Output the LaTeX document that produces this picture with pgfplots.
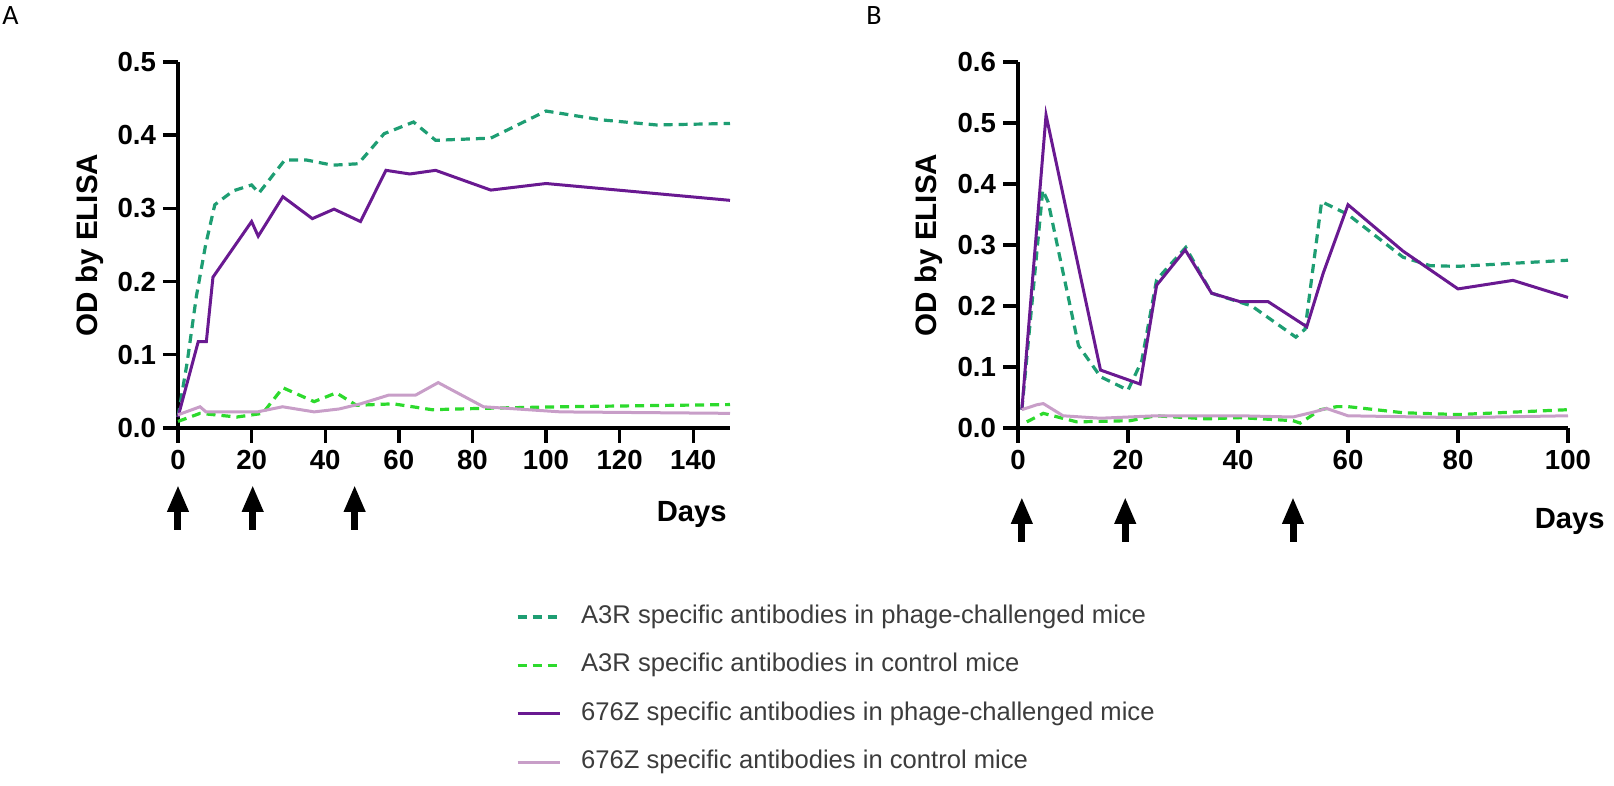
\documentclass[border=0pt]{standalone}
\usepackage{pgfplots}
\pgfplotsset{compat=1.18}
\usepackage{fontspec}
\setmainfont{Liberation Sans}
\newfontfamily\calibri{Carlito}
\usetikzlibrary{arrows.meta}
\definecolor{dkgreen}{RGB}{30,158,115}
\definecolor{ltgreen}{RGB}{45,218,45}
\definecolor{dkpurple}{RGB}{105,25,145}
\definecolor{ltpurple}{RGB}{200,158,200}
\definecolor{legtext}{RGB}{60,60,60}
\tikzset{arr/.style={line width=3.5pt,-{Triangle[length=13.5pt,width=10pt]}}}
\pgfplotsset{
  myaxis/.style={
    scale only axis, clip=false,
    axis x line*=bottom, axis y line*=left,
    axis line style={line width=1.7pt,-},
    tick align=outside, major tick length=7.5pt,
    tick style={line width=1.7pt,black},
    xmin=0, ymin=0,
    tick label style={font=\bfseries\fontsize{13.8}{14}\selectfont},
    /pgf/number format/assume math mode=true,
    yticklabel style={/pgf/number format/fixed,/pgf/number format/fixed zerofill,/pgf/number format/precision=1},
    ylabel style={font=\bfseries\fontsize{14.8}{15}\selectfont,anchor=center},
  },
  sA/.style={dkgreen,line width=1.6pt,dash pattern=on 4.5pt off 3pt},
  sB/.style={ltgreen,line width=1.6pt,dash pattern=on 4.5pt off 3pt},
  sC/.style={dkpurple,line width=1.5pt},
  sD/.style={ltpurple,line width=1.5pt},
}
\begin{document}
\begin{tikzpicture}
\path[use as bounding box] (0,0) rectangle (807pt,393pt);
% ---------------- Panel A
\begin{axis}[myaxis, at={(89pt,179pt)}, anchor=south west,
  width=276pt, height=183pt,
  xmax=150, ymax=0.5,
  xtick={0,20,40,60,80,100,120,140},
  ytick={0,0.1,0.2,0.3,0.4,0.5},
  ylabel={OD by ELISA},
  ylabel style={at={(axis description cs:-0.159,0.5)}},
  legend style={at={(axis description cs:0.6115,-0.4814)}, anchor=north west,
    draw=none, fill=none, inner sep=0pt, column sep=10pt, row sep=11.7pt,
    nodes={inner sep=0pt, text=legtext, font=\fontsize{12.8}{13}\selectfont, text height=9.5pt, text depth=3pt}},
  legend cell align=left,
  legend image code/.code={\draw[#1] (0pt,0pt) -- (21pt,0pt);},
]
\addplot[sA] coordinates {(0,0.015) (2.5,0.09) (5,0.18) (7.5,0.25) (10,0.305) (15,0.324) (20,0.332) (22,0.321) (29,0.366) (35,0.366) (42,0.359) (49,0.361) (56,0.402) (64,0.418) (70,0.393) (85,0.396) (100,0.433) (115,0.421) (130,0.414) (150,0.416)};
\addlegendentry{A3R specific antibodies in phage-challenged mice}
\addplot[sB] coordinates {(0,0.009) (6,0.02) (16,0.015) (23,0.02) (28.5,0.055) (37,0.036) (43,0.048) (48.5,0.031) (58.5,0.033) (69,0.025) (84,0.027) (104,0.029) (150,0.032)};
\addlegendentry{A3R specific antibodies in control mice}
\addplot[sC] coordinates {(0,0.015) (5.5,0.118) (7.7,0.118) (9.5,0.206) (20,0.282) (21.8,0.262) (28.5,0.316) (36.5,0.286) (42.4,0.299) (49.6,0.282) (56.5,0.352) (63,0.347) (70,0.352) (85,0.325) (100,0.334) (150,0.311)};
\addlegendentry{676Z specific antibodies in phage-challenged mice}
\addplot[sD] coordinates {(0,0.018) (6,0.029) (7.6,0.022) (21.6,0.022) (28.4,0.029) (37,0.022) (43.8,0.026) (49.6,0.033) (57.3,0.045) (64.6,0.045) (70.7,0.062) (83,0.029) (104,0.022) (150,0.02)};
\addlegendentry{676Z specific antibodies in control mice}
\draw[arr] (axis cs:0,0) ++(0pt,-51pt) -- ++(0pt,22.5pt);
\draw[arr] (axis cs:20.3,0) ++(0pt,-51pt) -- ++(0pt,22.5pt);
\draw[arr] (axis cs:48,0) ++(0pt,-51pt) -- ++(0pt,22.5pt);
\end{axis}
% ---------------- Panel B
\begin{axis}[myaxis, at={(509pt,179pt)}, anchor=south west,
  width=275pt, height=183pt,
  xmax=100, ymax=0.6,
  xtick={0,20,40,60,80,100},
  ytick={0,0.1,0.2,0.3,0.4,0.5,0.6},
  ylabel={OD by ELISA},
  ylabel style={at={(axis description cs:-0.162,0.5)}},
]
\addplot[sA] coordinates {(0.7,0.03) (4.5,0.39) (5.5,0.37) (11,0.135) (15,0.084) (20,0.062) (22.5,0.11) (25.2,0.243) (30.5,0.296) (35.2,0.221) (42.5,0.2) (50.5,0.149) (52.2,0.162) (55.2,0.371) (60,0.35) (70,0.28) (75,0.266) (80,0.265) (100,0.275)};
\addplot[sB] coordinates {(1.6,0.01) (4.6,0.024) (10.7,0.01) (20.4,0.012) (25,0.02) (34.3,0.015) (40.4,0.017) (50,0.012) (51.3,0.008) (55,0.03) (58,0.035) (60,0.035) (70,0.025) (80,0.022) (100,0.03)};
\addplot[sC] coordinates {(0.7,0.03) (5.1,0.513) (15,0.095) (22.2,0.072) (25.2,0.234) (30.4,0.292) (35.2,0.221) (40.4,0.207) (45.5,0.207) (52.5,0.166) (55.5,0.254) (60,0.366) (70,0.29) (80,0.228) (90,0.242) (100,0.214)};
\addplot[sD] coordinates {(0.7,0.03) (3.4,0.038) (4.6,0.04) (8.2,0.02) (15,0.016) (25,0.02) (40.4,0.02) (50,0.018) (53.7,0.026) (56.1,0.032) (60,0.02) (80,0.017) (100,0.02)};
\draw[arr] (axis cs:0.7,0) ++(0pt,-57pt) -- ++(0pt,22.5pt);
\draw[arr] (axis cs:19.5,0) ++(0pt,-57pt) -- ++(0pt,22.5pt);
\draw[arr] (axis cs:50,0) ++(0pt,-57pt) -- ++(0pt,22.5pt);
\end{axis}
% ---------------- texts
\node[anchor=base east, font=\bfseries\fontsize{14.6}{15}\selectfont, inner sep=0pt] at (363.5pt,132.3pt) {Days};
\node[anchor=base east, font=\bfseries\fontsize{14.6}{15}\selectfont, inner sep=0pt] at (802.5pt,128.8pt) {Days};
\node[anchor=base west, font=\calibri\fontsize{14}{14}\selectfont, inner sep=0pt] at (1pt,380.5pt) {A};
\node[anchor=base west, font=\calibri\fontsize{14}{14}\selectfont, inner sep=0pt] at (433pt,380.5pt) {B};
\end{tikzpicture}
\end{document}
